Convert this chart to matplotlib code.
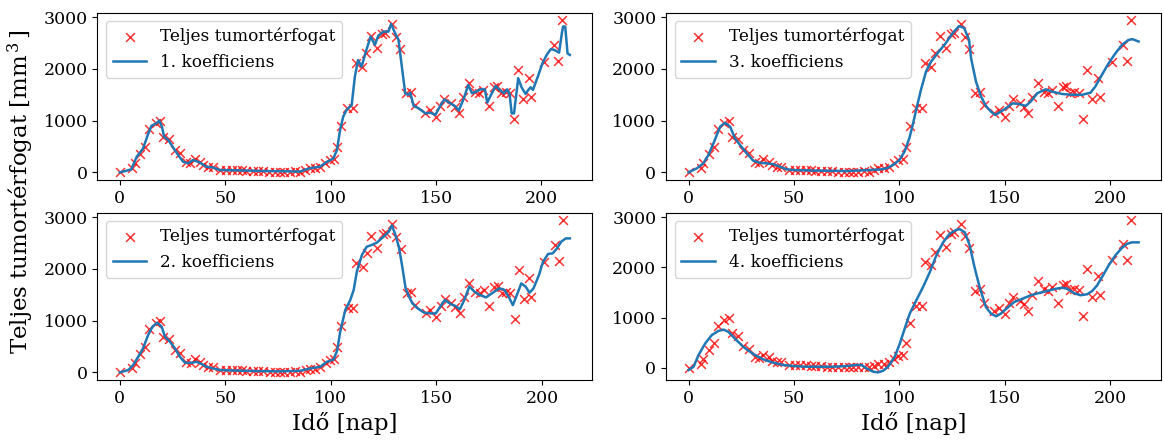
import matplotlib
matplotlib.use("Agg")
import matplotlib.pyplot as plt

plt.rcParams['font.family'] = 'DejaVu Serif'
plt.rcParams['mathtext.fontset'] = 'dejavuserif'

# Mert tumortérfogat (nap, mm^3)
t_meres = [0, 6, 7, 9.5, 12, 14, 17, 19, 20.5, 23.5, 26, 28.5, 31.5, 33.5, 35.5, 38,
           39.5, 42, 44, 47.5, 50.5, 53, 55.5, 58, 60, 63, 65.5, 68, 71, 73.5, 76, 78,
           80.5, 83, 85.5, 88, 90, 92.5, 95, 97.5, 99.5, 101.5, 103, 105, 108, 110.5,
           112, 115, 117, 119, 122, 124.5, 126, 129, 131, 133, 136, 138, 140, 145, 147,
           150, 152, 154, 157, 159, 161, 163, 165.5, 168.5, 170.5, 172.5, 175, 177.5,
           179, 181, 183, 185, 187, 189, 191.5, 194, 195, 201, 206, 208, 210]
v_meres = [0, 80, 180, 355, 490, 830, 950, 1000, 690, 640, 430, 370, 205, 190, 250, 205,
           140, 110, 110, 45, 50, 50, 45, 40, 35, 30, 20, 20, 15, 15, 15, 15,
           15, 20, 15, 40, 75, 75, 110, 175, 240, 250, 500, 890, 1240, 1240,
           2110, 2040, 2300, 2640, 2400, 2670, 2700, 2870, 2625, 2380, 1530, 1560, 1300, 1140, 1200,
           1080, 1290, 1420, 1340, 1270, 1140, 1460, 1735, 1560, 1530, 1600, 1285, 1650,
           1670, 1540, 1560, 1540, 1025, 1970, 1410, 1820, 1450, 2140, 2460, 2150, 2940]

# 1. koefficiens
t_k1 = [0, 3, 5.5, 8, 11, 13.5, 15, 17.4, 18.7, 20, 21, 23, 25, 27.7, 30, 32.4, 34.8, 38,
        41, 44, 47.5, 55, 60, 70, 80, 85.4, 90, 95, 98, 100.5, 101.3, 103, 104.5, 106,
        107.6, 110, 111.5, 113, 114.7, 117, 119, 121, 122.6, 125, 127.4, 128.7, 130.5,
        132.2, 133.8, 135.4, 136.7, 137.8, 139.4, 141.7, 145, 147.3, 149.7, 152, 154,
        156.8, 158.9, 160.8, 163.2, 165.3, 167.1, 169, 171, 173.2, 174.3, 176.3, 178.3,
        180.6, 182.2, 183.8, 184.9, 185.9, 187, 189, 190.6, 192.5, 193.8, 194.9, 196,
        198.6, 200.5, 202.5, 204.4, 206, 208.4, 209.7, 210.3, 211.3, 212.4, 213.5]
v_k1 = [0, 30, 60, 300, 460, 750, 900, 950, 1000, 880, 690, 625, 500, 335, 205, 175, 240, 190,
        110, 97, 45, 40, 35, 25, 20, 15, 80, 110, 200, 250, 270, 430, 820, 1080,
        1210, 1300, 1850, 2170, 2045, 2370, 2625, 2465, 2640, 2720, 2720, 2870, 2700,
        2560, 2045, 1530, 1500, 1540, 1285, 1240, 1140, 1155, 1110, 1285, 1410,
        1335, 1285, 1195, 1430, 1690, 1530, 1560, 1605, 1605, 1350, 1515, 1670,
        1580, 1530, 1605, 1515, 1140, 1140, 1820, 1645, 1515, 1595, 1645, 1595,
        1885, 2110, 2270, 2380, 2370, 2315, 2690, 2820, 2820, 2300, 2270]

# 2. koefficiens
t_k2 = [0, 4, 6.3, 8.7, 11, 13.4, 15.5, 17.7, 19.8, 21.4, 23.7, 26.1, 28.5, 30.9, 34, 36.4,
        38.8, 41, 44.3, 47.5, 55, 65, 75, 85.4, 90.2, 95, 98.1, 101.3, 103, 104.4, 106.8,
        109.2, 110.8, 112.3, 114.7, 117, 119.5, 121.8, 125, 127.4, 128.9, 130.3, 132.2,
        133.8, 135.4, 137, 138.6, 141, 144.1, 147.3, 149.7, 152, 154, 156.8, 158.9, 161.1,
        163.2, 165.6, 168, 170.3, 173.5, 176.7, 179.8, 182.2, 184.6, 186.2, 187.8, 190.2,
        192.2, 194.1, 196, 198.6, 200.5, 202.9, 205, 206.8, 209.2, 211.3, 213.2]
v_k2 = [0, 45, 140, 300, 465, 720, 885, 960, 885, 690, 595, 465, 300, 185, 185, 205,
        160, 110, 75, 45, 35, 25, 20, 30, 75, 110, 205, 250, 430, 785, 1205,
        1400, 1595, 1950, 2270, 2430, 2465, 2510, 2625, 2720, 2840, 2690, 2430,
        2045, 1625, 1465, 1335, 1240, 1155, 1140, 1140, 1285, 1400, 1320, 1285, 1220,
        1400, 1660, 1560, 1500, 1450, 1540, 1625, 1595, 1430, 1300, 1465, 1720,
        1660, 1540, 1625, 1885, 2140, 2290, 2300, 2380, 2530, 2590, 2590]

# 3. koefficiens
t_k3 = [0, 4, 7, 9.4, 11.8, 15, 17.3, 19.7, 22, 24.4, 27.6, 30.7, 33.9, 37, 40, 43.3, 46.5,
        49.6, 60, 75, 90.5, 93.7, 96.9, 100, 102.4, 104.7, 106.3, 107.9, 110.2, 112.6, 115,
        118, 122, 125.2, 128.3, 130.7, 133, 134, 136.3, 138.7, 141, 143.4, 145.4, 147.3,
        150.5, 153.6, 156.8, 159.9, 162.3, 165.4, 169.3, 172.5, 177.2, 181.9, 186.6, 190.6,
        192.9, 196, 199.2, 202.4, 205.5, 208.6, 210.5, 213.4]
v_k3 = [0, 80, 175, 335, 560, 885, 960, 885, 660, 530, 370, 225, 185, 175, 160, 110, 60,
        45, 35, 25, 55, 75, 140, 240, 400, 660, 915, 1205, 1595, 1950, 2140,
        2300, 2500, 2690, 2830, 2790, 2560, 2200, 1755, 1465, 1285, 1175, 1110, 1155,
        1240, 1335, 1320, 1285, 1370, 1530, 1605, 1560, 1515, 1500, 1500, 1540,
        1660, 1885, 2110, 2300, 2465, 2560, 2575, 2530]

# 4. koefficiens
t_k4 = [0, 2.4, 4.7, 7.9, 11, 14.2, 16.6, 18.9, 22, 26, 30.8, 35.5, 40.2, 44.9, 49.7, 56,
        62.3, 68.6, 74.9, 79.7, 82, 84.4, 87.5, 89.9, 92.3, 94.6, 97.8, 100.2, 102.5, 104.9,
        108, 111.2, 114.4, 117.5, 120.7, 123.8, 127, 128.5, 131, 133.3, 135.6, 138, 141,
        143.4, 145.8, 148.1, 151.3, 154.4, 158.3, 162.3, 166.2, 170.1, 174.1, 177.2, 179.6,
        182.7, 185.8, 189, 191.4, 193.7, 196.1, 199.2, 202.4, 205.5, 207.9, 210.2, 213.4]
v_k4 = [-46, 20, 250, 485, 650, 735, 760, 715, 580, 415, 270, 165, 100, 55, 33, 20,
        20, 20, 33, 55, 55, -13, -80, -93, -60, 20, 220, 485, 780, 1080,
        1345, 1610, 1905, 2240, 2500, 2670, 2750, 2765, 2700, 2440, 2005, 1610, 1210,
        1080, 1025, 1080, 1200, 1310, 1375, 1445, 1490, 1530, 1575, 1595, 1575,
        1490, 1445, 1465, 1530, 1640, 1810, 2040, 2240, 2390, 2470, 2500, 2500]

gorbek = [(t_k1, v_k1, '1. koefficiens'), (t_k3, v_k3, '3. koefficiens'),
          (t_k2, v_k2, '2. koefficiens'), (t_k4, v_k4, '4. koefficiens')]

fig = plt.figure(figsize=(11.64, 4.42), dpi=100)
helyek = [[0.0836, 0.5928, 0.4253, 0.3785], [0.5722, 0.5928, 0.4253, 0.3785],
          [0.0836, 0.1403, 0.4253, 0.3785], [0.5722, 0.1403, 0.4253, 0.3785]]

for i, (t, v, nev) in enumerate(gorbek):
    ax = fig.add_axes(helyek[i])
    ax.scatter(t_meres, v_meres, marker='x', color='red', alpha=0.8, s=40,
               linewidths=1.1, label='Teljes tumortérfogat')
    ax.plot(t, v, color='tab:blue', lw=1.8, label=nev)
    ax.set_xticks([0, 50, 100, 150, 200])
    ax.tick_params(labelsize=12.5)
    ax.legend(loc='upper left', fontsize=12.2)
    if i >= 2:
        ax.set_xlabel('Idő [nap]', fontsize=16.5)

fig.text(0.018, 0.565, r'Teljes tumortérfogat [mm$^{\,3\,}$]', rotation=90,
         va='center', ha='center', fontsize=16.5)

fig.savefig('out.png', dpi=100)
